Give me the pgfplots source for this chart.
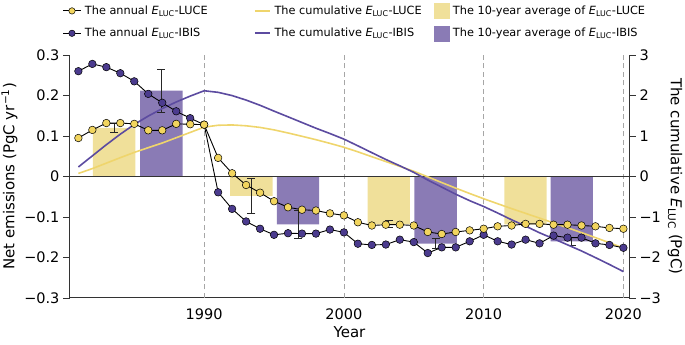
\documentclass[border=0pt]{standalone}
\usepackage{fontspec}
\setmainfont{DejaVu Sans}
\usepackage{pgfplots}
\pgfplotsset{compat=1.18}
\definecolor{lucebar}{HTML}{F0E09A}
\definecolor{ibisbar}{HTML}{8A7BB5}
\definecolor{lucept}{HTML}{F2D55E}
\definecolor{ibispt}{HTML}{4B3B8E}
\definecolor{luceline}{HTML}{EFD56C}
\definecolor{ibisline}{HTML}{5C4BA0}
\definecolor{axcol}{HTML}{333333}
\newcommand{\Eluc}{\textit{E}\textsubscript{LUC}}
\pgfplotsset{common/.style={width=559pt, height=243pt, scale only axis, at={(0,0)}, anchor=south west,
  xmin=1980.4, xmax=2020.4,
  tick label style={font=\fontsize{14.5}{16}\selectfont},
  label style={font=\fontsize{15}{17}\selectfont},
  /pgf/number format/assume math mode=true}}

\pgfplotstableread{
year luce ibis
1981 0.095 0.260
1982 0.115 0.278
1983 0.132 0.270
1984 0.132 0.255
1985 0.130 0.235
1986 0.114 0.204
1987 0.114 0.182
1988 0.130 0.161
1989 0.129 0.144
1990 0.128 0.128
1991 0.046 -0.039
1992 0.008 -0.080
1993 -0.021 -0.111
1994 -0.040 -0.129
1995 -0.061 -0.144
1996 -0.076 -0.140
1997 -0.082 -0.141
1998 -0.084 -0.141
1999 -0.091 -0.131
2000 -0.096 -0.138
2001 -0.113 -0.166
2002 -0.121 -0.169
2003 -0.119 -0.168
2004 -0.119 -0.156
2005 -0.121 -0.162
2006 -0.137 -0.189
2007 -0.142 -0.175
2008 -0.137 -0.175
2009 -0.133 -0.160
2010 -0.129 -0.144
2011 -0.123 -0.160
2012 -0.121 -0.168
2013 -0.117 -0.156
2014 -0.117 -0.165
2015 -0.119 -0.146
2016 -0.119 -0.151
2017 -0.121 -0.151
2018 -0.123 -0.165
2019 -0.127 -0.169
2020 -0.129 -0.176
}\annual

\pgfplotstableread{
year luce ibis
1981 0.075 0.235
1982 0.195 0.510
1983 0.330 0.785
1984 0.465 1.045
1985 0.595 1.285
1986 0.712 1.492
1987 0.827 1.677
1988 0.957 1.840
1989 1.088 1.985
1990 1.219 2.117
1991 1.265 2.078
1992 1.273 1.998
1993 1.252 1.887
1994 1.212 1.758
1995 1.151 1.614
1996 1.075 1.474
1997 0.993 1.333
1998 0.909 1.192
1999 0.818 1.061
2000 0.722 0.923
2001 0.609 0.757
2002 0.488 0.588
2003 0.369 0.420
2004 0.250 0.264
2005 0.129 0.102
2006 -0.008 -0.087
2007 -0.150 -0.262
2008 -0.287 -0.437
2009 -0.420 -0.597
2010 -0.549 -0.741
2011 -0.672 -0.901
2012 -0.793 -1.069
2013 -0.910 -1.225
2014 -1.027 -1.390
2015 -1.146 -1.536
2016 -1.265 -1.687
2017 -1.386 -1.838
2018 -1.509 -2.003
2019 -1.636 -2.172
2020 -1.765 -2.348
}\cumul

\begin{document}
\begin{tikzpicture}
\useasboundingbox (-70pt,-47pt) rectangle (615pt,298pt);
% ---------- left axis: bars, reference lines ----------
\begin{axis}[common, ymin=-0.3, ymax=0.3,
  axis x line*=bottom, axis y line*=left,
  axis line style={-, line width=1pt, axcol},
  ytick={-0.3,-0.2,-0.1,0,0.1,0.2,0.3},
  yticklabels={−0.3,−0.2,−0.1,0,0.1,0.2,0.3},
  xtick={1990,2000,2010,2020},
  xticklabels={1990,2000,2010,2020},
  tick align=outside, major tick length=7pt,
  x tick style={draw=none},
  y tick style={line width=0.8pt, axcol},
  xlabel={Year},
  ylabel={Net emissions (PgC yr\textsuperscript{−1})},
]
\addplot[ybar, bar width=3.03, bar shift=0pt, fill=lucebar, draw=none,
  error bars/.cd, y dir=both, y explicit, error mark=-,
  error bar style={black!85, line width=1pt},
  error mark options={rotate=90, black!85, line width=1pt, mark size=4pt}]
  coordinates {(1983.56,0.120) +- (0,0.012) (1993.38,-0.048) +- (0,0.044)
               (2003.21,-0.118) +- (0,0.009) (2012.99,-0.118) +- (0,0.004)};
\addplot[ybar, bar width=3.03, bar shift=0pt, fill=ibisbar, draw=none,
  error bars/.cd, y dir=both, y explicit, error mark=-,
  error bar style={black!85, line width=1pt},
  error mark options={rotate=90, black!85, line width=1pt, mark size=4pt}]
  coordinates {(1986.94,0.212) +- (0,0.053) (1996.72,-0.118) +- (0,0.034)
               (2006.56,-0.166) +- (0,0.013) (2016.30,-0.160) +- (0,0.010)};
\addplot[gray!70, line width=0.8pt, dash pattern=on 5pt off 3.5pt] coordinates {(1990,-0.3) (1990,0.3)};
\addplot[gray!70, line width=0.8pt, dash pattern=on 5pt off 3.5pt] coordinates {(2000,-0.3) (2000,0.3)};
\addplot[gray!70, line width=0.8pt, dash pattern=on 5pt off 3.5pt] coordinates {(2010,-0.3) (2010,0.3)};
\addplot[gray!70, line width=0.8pt, dash pattern=on 5pt off 3.5pt] coordinates {(2020,-0.3) (2020,0.3)};
\addplot[axcol, line width=1pt] coordinates {(1980.4,0) (2020.4,0)};
\end{axis}
% ---------- right axis: cumulative ----------
\begin{axis}[common, ymin=-3, ymax=3,
  axis y line*=right, axis x line=none,
  axis line style={-, line width=1pt, axcol},
  ytick={-3,-2,-1,0,1,2,3},
  yticklabels={−3,−2,−1,0,1,2,3},
  tick align=outside, major tick length=7pt,
  y tick style={line width=0.8pt, axcol},
  ylabel={The cumulative \Eluc{} (PgC)},
  ylabel style={rotate=180},
]
\addplot[luceline, line width=1.6pt] table[x=year, y=luce] {\cumul};
\addplot[ibisline, line width=1.6pt] table[x=year, y=ibis] {\cumul};
\end{axis}
% ---------- annual series + legend ----------
\begin{axis}[common, ymin=-0.3, ymax=0.3, axis lines=none,
  legend columns=3, legend cell align=left,
  legend style={draw=none, fill=none, inner sep=0pt, outer sep=0pt,
    at={(0,1)}, anchor=south west, xshift=-7pt, yshift=14pt,
    font=\fontsize{11.3}{13}\selectfont, row sep=7pt,
    /tikz/every odd column/.style={column sep=2pt},
    /tikz/every even column/.style={column sep=4pt}},
]
\addplot[black, line width=0.9pt, mark=*, mark size=3.8pt,
  mark options={fill=ibispt, draw=black, line width=0.5pt}, forget plot]
  table[x=year, y=ibis] {\annual};
\addplot[black, line width=0.9pt, mark=*, mark size=3.8pt,
  mark options={fill=lucept, draw=black, line width=0.5pt}, forget plot]
  table[x=year, y=luce] {\annual};
\addlegendimage{black, line width=0.9pt, mark=*, mark size=3.2pt,
  mark options={fill=lucept, draw=black, line width=0.5pt}}
\addlegendentry{\makebox[163pt][l]{The annual \Eluc-LUCE}}
\addlegendimage{legend image code/.code={\draw[luceline, line width=1.6pt] (0pt,0pt) -- (15pt,0pt);}}
\addlegendentry{\makebox[153pt][l]{The cumulative \Eluc-LUCE}}
\addlegendimage{legend image code/.code={\fill[lucebar] (0pt,-7.5pt) rectangle (15pt,7.5pt);}}
\addlegendentry{The 10-year average of \Eluc-LUCE}
\addlegendimage{black, line width=0.9pt, mark=*, mark size=3.2pt,
  mark options={fill=ibispt, draw=black, line width=0.5pt}}
\addlegendentry{\makebox[163pt][l]{The annual \Eluc-IBIS}}
\addlegendimage{legend image code/.code={\draw[ibisline, line width=1.6pt] (0pt,0pt) -- (15pt,0pt);}}
\addlegendentry{\makebox[153pt][l]{The cumulative \Eluc-IBIS}}
\addlegendimage{legend image code/.code={\fill[ibisbar] (0pt,-7.5pt) rectangle (15pt,7.5pt);}}
\addlegendentry{The 10-year average of \Eluc-IBIS}
\end{axis}
\end{tikzpicture}
\end{document}
